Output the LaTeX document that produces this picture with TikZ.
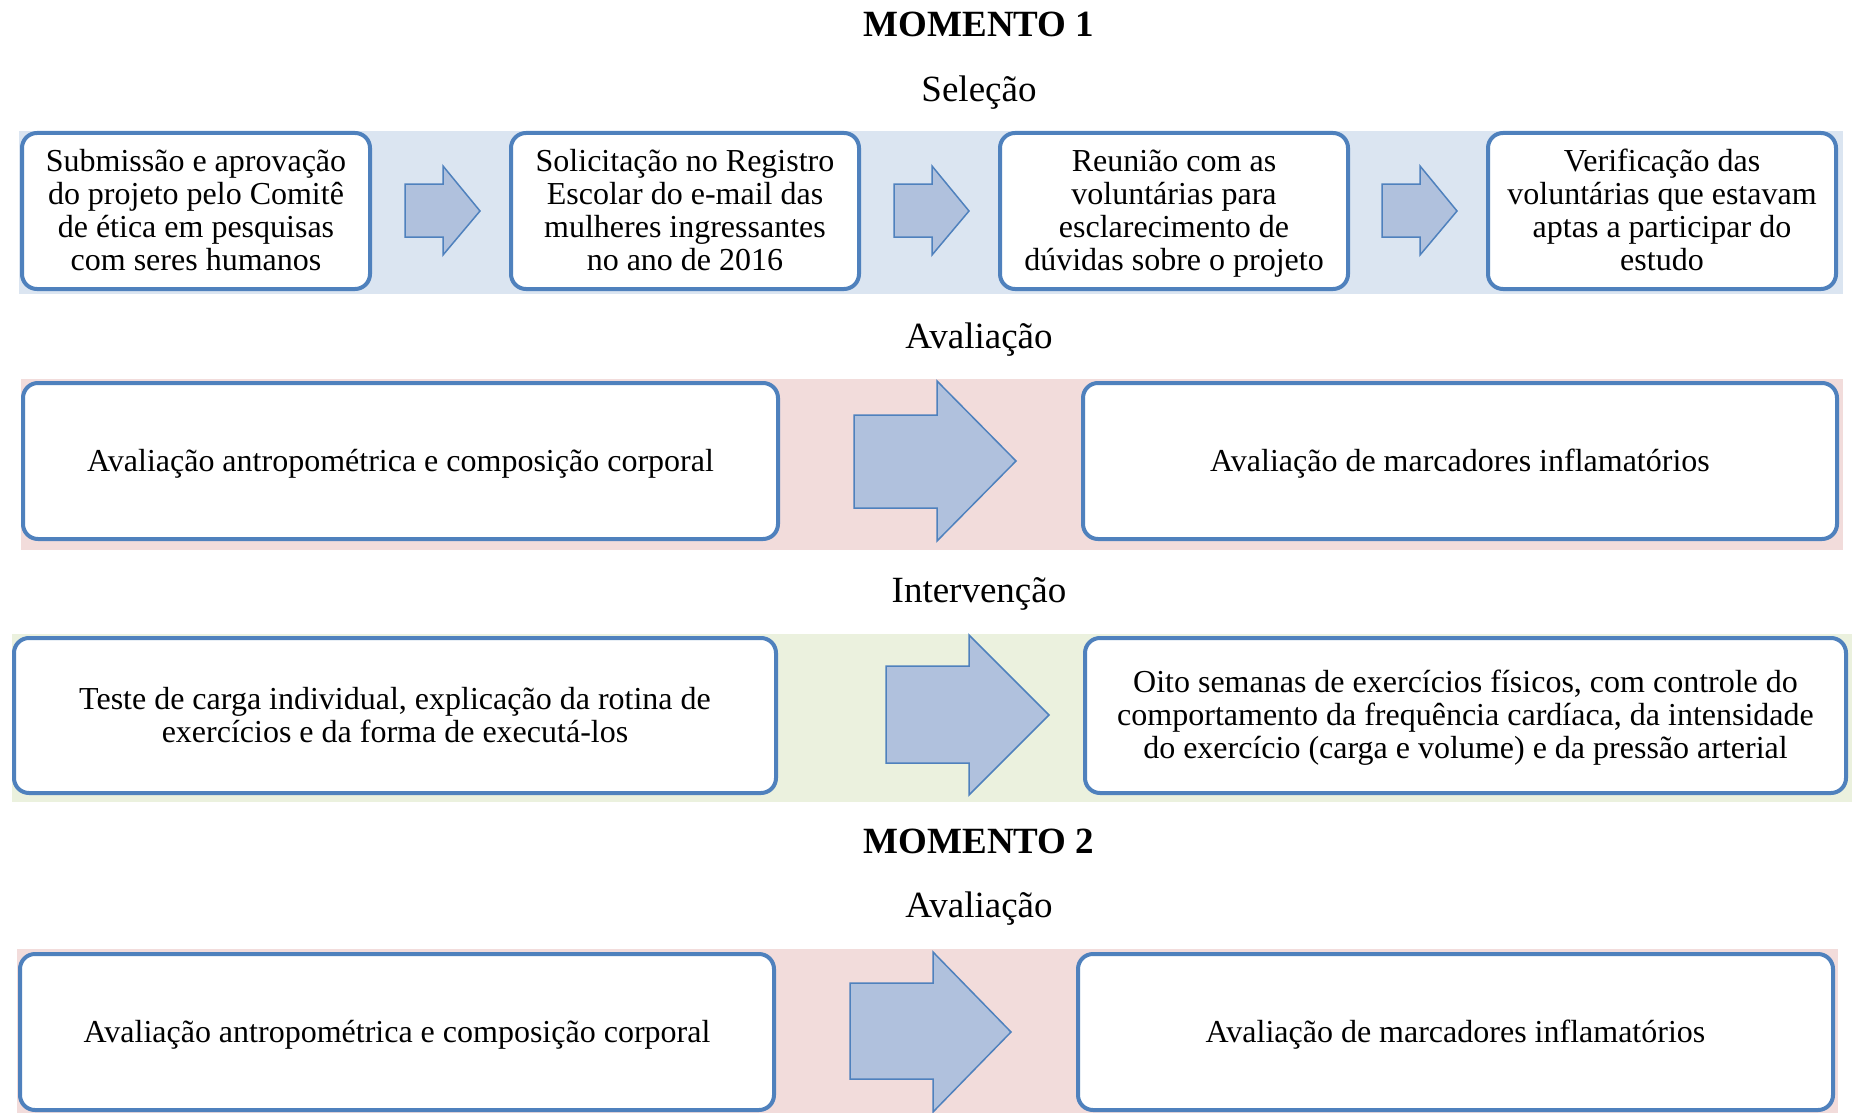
\documentclass[tikz,border=0pt]{standalone}
\usepackage{fontspec}
\setmainfont{Liberation Serif}
\definecolor{bandblue}{HTML}{DBE5F1}
\definecolor{bandpink}{HTML}{F2DCDB}
\definecolor{bandgreen}{HTML}{EBF1DE}
\definecolor{boxline}{HTML}{4F81BD}
\definecolor{arrowfill}{HTML}{B0C1DD}
\begin{document}
\begin{tikzpicture}[x=1pt,y=-1pt,
  box/.style={draw=boxline, line width=4pt, fill=white, rounded corners=15pt,
    align=center, inner sep=0pt, font=\fontsize{32}{33}\selectfont},
  fourline/.style={box, minimum width=348pt, minimum height=156pt, text height=125pt, text depth=7pt},
  oneline/.style={box, minimum height=156pt, text height=27pt, text depth=7pt},
  heading/.style={font=\fontsize{37}{40}\selectfont, inner sep=0pt},
  bigheading/.style={font=\fontsize{37}{40}\selectfont\bfseries, inner sep=0pt},
  blockarrow/.style={draw=boxline, line width=1.5pt, fill=arrowfill, line join=miter}]
\useasboundingbox (0,0) rectangle (1852,1113);
% bands
\fill[bandblue] (19,131) rectangle (1843,294);
\fill[bandpink] (21,379) rectangle (1843,550);
\fill[bandgreen] (12,634) rectangle (1852,802);
\fill[bandpink] (17,949) rectangle (1838,1113);
% headings
\node[bigheading] (m1) at (979,24.5) {MOMENTO 1};
\node[heading] (sel) at (979,93) {Seleção};
\node[heading] (av1) at (979,340) {Avaliação};
\node[heading] (int) at (979,594) {Intervenção};
\node[bigheading] (m2) at (979,841.5) {MOMENTO 2};
\node[heading] (av2) at (979,909) {Avaliação};
% row 1
\node[fourline] (s1) at (196,211)
  {Submissão e aprovação\\do projeto pelo Comitê\\de ética em pesquisas\\com seres humanos};
\node[fourline] (s2) at (685,211)
  {Solicitação no Registro\\Escolar do e-mail das\\mulheres ingressantes\\no ano de 2016};
\node[fourline] (s3) at (1174,211)
  {Reunião com as\\voluntárias para\\esclarecimento de\\dúvidas sobre o projeto};
\node[fourline] (s4) at (1662,211)
  {Verificação das\\voluntárias que estavam\\aptas a participar do\\estudo};
\foreach \dx in {0,489,977}{
  \draw[blockarrow, xshift=\dx pt] (405,184) -- (443,184) -- (443,166) -- (480,211)
    -- (443,255) -- (443,237) -- (405,237) -- cycle;
}
% row 2
\node[oneline, minimum width=755pt] (a1) at (400.5,461)
  {Avaliação antropométrica e composição corporal};
\node[oneline, minimum width=754pt] (a2) at (1460,461)
  {Avaliação de marcadores inflamatórios};
\draw[blockarrow] (854,415) -- (937,415) -- (937,381) -- (1016,461) -- (937,541)
  -- (937,508) -- (854,508) -- cycle;
% row 3
\node[box, minimum width=762pt, minimum height=155pt] (i1) at (395,715.5)
  {Teste de carga individual, explicação da rotina de\\exercícios e da forma de executá-los};
\node[box, minimum width=761pt, minimum height=155pt, text height=93pt, text depth=7pt] (i2) at (1465.5,715.5)
  {Oito semanas de exercícios físicos, com controle do\\comportamento da frequência cardíaca, da intensidade\\do exercício (carga e volume) e da pressão arterial};
\draw[blockarrow] (886,666) -- (969,666) -- (969,635) -- (1049,715) -- (969,795)
  -- (969,763) -- (886,763) -- cycle;
% row 4
\node[oneline, minimum width=754pt] (b1) at (397,1032)
  {Avaliação antropométrica e composição corporal};
\node[oneline, minimum width=755pt] (b2) at (1455.5,1032)
  {Avaliação de marcadores inflamatórios};
\draw[blockarrow] (850,983) -- (933,983) -- (933,952) -- (1011,1032) -- (933,1112)
  -- (933,1079) -- (850,1079) -- cycle;
\end{tikzpicture}
\end{document}
